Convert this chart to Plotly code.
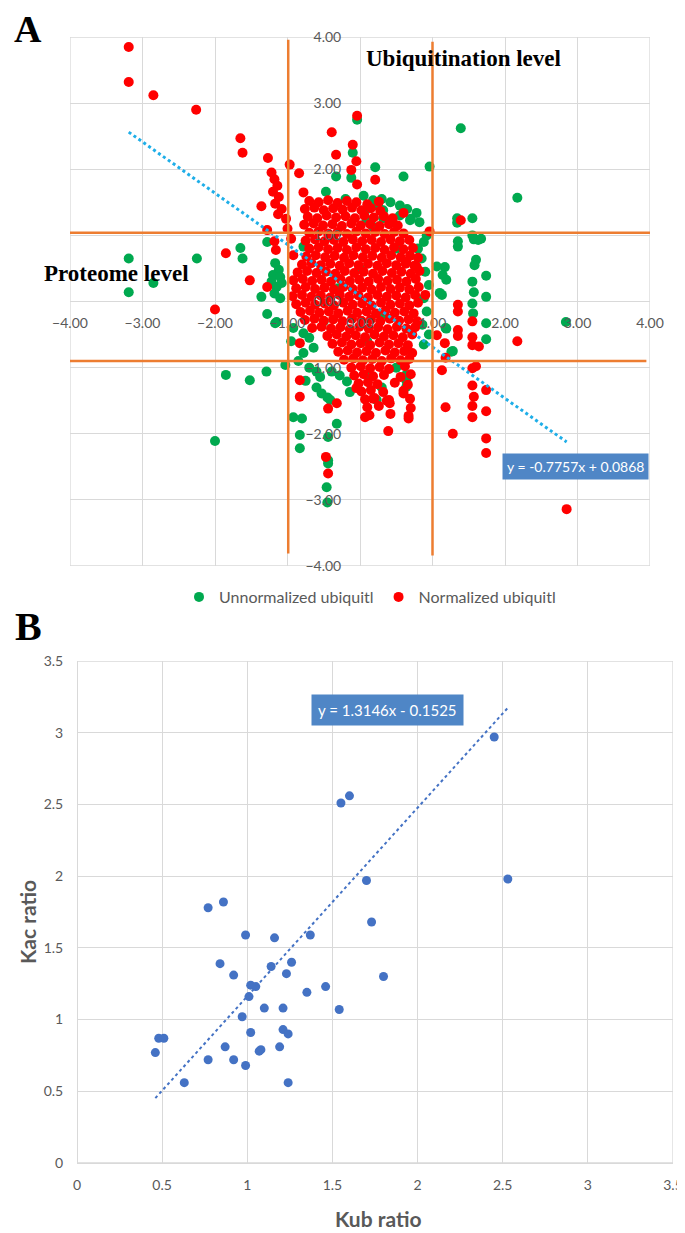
import plotly.graph_objects as go

# ---------------- Panel A data ----------------
green_outliers = [
    (-3.19, 0.65), (-3.19, 0.14), (-2.85, 0.28), (-2.25, 0.65), (-1.65, 0.81), (-1.62, 0.65),
    (-1.36, 0.07), (-1.28, 0.90), (-1.28, -0.19), (-1.17, -0.33), (-1.85, -1.11), (-1.52, -1.19),
    (-1.29, -1.06), (-2.00, -2.11), (1.39, 2.62), (2.17, 1.57), (1.34, 1.26), (1.34, 1.19),
    (1.55, 1.26), (1.55, 1.00), (1.57, 0.94), (1.63, 0.93), (1.67, 0.95), (1.35, 0.91), (1.35, 0.83),
    (1.60, 0.63), (1.58, 0.55), (1.17, 0.52), (1.19, 0.33), (1.74, 0.39), (1.55, 0.30), (1.57, 0.14),
    (1.74, 0.07), (1.13, 0.10), (1.55, -0.03), (1.56, -0.18), (1.74, -0.33), (2.84, -0.31),
    (1.18, -0.40), (1.74, -0.57), (1.28, -0.75), (0.96, 2.04), (0.60, 1.89), (0.21, 2.03),
    (-0.10, 2.25), (-0.33, 1.89), (-0.47, 1.66), (-0.12, 1.87), (-0.04, 2.75), (-0.45, -3.04),
    (-0.46, -2.81),
]
green_cluster = [
    (0.18, 1.53), (0.30, 1.55), (0.42, 1.50), (0.55, 1.45), (0.65, 1.40), (0.78, 1.34), (0.70, 1.25),
    (0.82, 1.20), (0.92, 1.00), (0.88, 0.90), (0.09, 1.23), (0.18, 1.13), (0.32, 1.38), (0.32, 1.26),
    (0.69, 1.23), (0.10, 1.40), (0.55, 1.30), (0.45, 1.20), (0.25, 1.45), (0.05, 1.60), (-0.20, 1.55),
    (1.06, 0.53), (1.14, 0.40), (1.10, 0.13), (0.85, 0.65), (0.90, 0.45), (0.95, 0.25), (0.88, 0.05),
    (0.92, -0.15), (0.86, -0.35), (0.95, -0.50), (0.88, -0.65), (1.19, -0.41), (1.26, -0.76),
    (0.80, 0.80), (-1.17, 0.58), (-1.12, 0.48), (-1.20, 0.40), (-1.10, 0.37), (-1.22, 0.30),
    (-1.15, 0.22), (-1.08, 0.28), (-1.18, 0.12), (-1.10, 0.05), (-1.15, -0.31), (-1.03, -0.96),
    (-0.78, 0.83), (-0.78, -0.48), (-0.70, -0.55), (-0.64, -0.70), (-0.78, -0.78), (-0.92, -0.40),
    (-0.95, -0.60), (-0.85, -0.90), (-0.60, -1.06), (-0.55, -1.14), (-0.39, -1.06), (-0.28, -1.12),
    (-0.18, -1.21), (-0.53, -1.39), (-0.45, -1.45), (-0.41, -1.49), (-0.70, -1.00), (-0.92, -1.75),
    (-0.80, -1.77), (-0.83, -2.02), (-0.83, -2.22), (-0.32, -1.85), (-0.44, -2.05), (-0.44, -2.40),
    (-0.44, -2.45), (-0.60, -1.30), (-0.75, -1.20), (0.23, -1.49), (0.64, -1.11), (0.64, -1.29),
    (0.64, -1.20), (0.12, -1.11), (-0.14, -1.37), (0.30, -1.30), (0.50, -1.00), (0.00, 0.50),
    (-0.30, 0.20), (0.30, -0.20), (0.50, 0.80), (-0.50, -0.30), (0.10, -0.60),
]
red_outliers = [
    (-3.19, 3.85), (-3.19, 3.32), (-2.85, 3.12), (-2.26, 2.90), (-1.65, 2.47), (-1.62, 2.25),
    (-1.27, 2.17), (-0.39, 2.56), (-0.10, 2.37), (-0.33, 2.22), (-0.05, 2.12), (-0.12, 1.99),
    (-0.04, 1.77), (0.21, 1.84), (-0.04, 2.81), (-0.97, 2.07), (-0.84, 1.94), (-0.78, 1.65),
    (-1.22, 1.95), (-1.18, 1.85), (-1.14, 1.75), (-1.20, 1.66), (-1.12, 1.58), (-1.17, 1.48),
    (-1.08, 1.40), (-1.13, 1.32), (-1.02, 1.25), (-1.36, 1.44), (-1.28, 1.08), (-1.18, 0.91),
    (-1.16, 0.78), (-1.85, 0.73), (-1.52, 0.32), (-1.28, 0.22), (-2.00, -0.12), (-1.00, 1.10),
    (-0.95, 0.95), (-0.92, 0.70), (0.60, 1.34), (0.96, 1.06), (0.64, 0.60), (0.78, 0.53),
    (0.90, 0.10), (1.39, 1.23), (1.35, -0.05), (1.35, -0.15), (1.55, -0.30), (1.35, -0.43),
    (1.35, -0.52), (1.17, -0.63), (1.55, -0.54), (1.55, -0.66), (1.64, -0.68), (2.17, -0.60),
    (1.18, -0.85), (1.13, -1.04), (1.55, -1.01), (1.60, -0.98), (1.55, -1.27), (1.74, -1.34),
    (1.57, -1.44), (1.55, -1.58), (1.18, -1.60), (1.74, -1.66), (1.55, -1.75), (1.28, -2.00),
    (1.74, -2.07), (1.74, -2.29), (2.85, -3.14), (1.06, -0.51), (-0.83, -1.19), (-0.83, -1.44),
    (-0.83, -0.63), (-0.44, -1.62), (-0.32, -1.54), (-0.47, -2.35), (-0.44, -2.60), (0.39, -1.96),
    (0.67, -1.77), (0.18, -1.47), (0.07, -1.75), (0.37, -1.50), (0.41, -1.54), (0.60, -1.39),
    (-0.05, -1.31),
]
red_cluster = [
    (-0.70, 1.52), (-0.57, 1.50), (-0.44, 1.53), (-0.31, 1.49), (-0.18, 1.52), (-0.05, 1.50), (0.10, 1.47), (0.26, 1.51),
    (-0.76, 1.40), (-0.63, 1.42), (-0.50, 1.38), (-0.37, 1.41), (-0.24, 1.39), (-0.11, 1.42), (0.02, 1.38), (0.15, 1.41), (0.28, 1.37),
    (-0.72, 1.28), (-0.59, 1.26), (-0.46, 1.30), (-0.33, 1.27), (-0.20, 1.29), (-0.07, 1.26), (0.06, 1.30), (0.19, 1.27), (0.33, 1.29), (0.45, 1.26),
    (-0.77, 1.16), (-0.64, 1.18), (-0.51, 1.15), (-0.38, 1.17), (-0.25, 1.14), (-0.12, 1.18), (0.01, 1.15), (0.14, 1.17), (0.27, 1.14), (0.40, 1.17), (0.52, 1.15),
    (-0.70, 1.04), (-0.57, 1.06), (-0.44, 1.03), (-0.31, 1.05), (-0.18, 1.02), (-0.05, 1.06), (0.08, 1.03), (0.21, 1.05), (0.34, 1.02), (0.47, 1.05), (0.60, 1.03),
    (-0.75, 0.92), (-0.62, 0.94), (-0.49, 0.91), (-0.36, 0.93), (-0.23, 0.90), (-0.10, 0.94), (0.03, 0.91), (0.16, 0.93), (0.29, 0.90), (0.42, 0.94), (0.55, 0.91), (0.68, 0.93),
    (-0.70, 0.80), (-0.57, 0.82), (-0.44, 0.79), (-0.31, 0.81), (-0.18, 0.78), (-0.05, 0.82), (0.08, 0.79), (0.21, 0.81), (0.34, 0.78), (0.47, 0.82), (0.60, 0.79), (0.73, 0.81),
    (-0.74, 0.68), (-0.61, 0.70), (-0.48, 0.67), (-0.35, 0.69), (-0.22, 0.66), (-0.09, 0.70), (0.04, 0.67), (0.17, 0.69), (0.30, 0.66), (0.43, 0.70), (0.56, 0.67), (0.69, 0.69), (0.80, 0.66),
    (-0.80, 0.56), (-0.67, 0.58), (-0.54, 0.55), (-0.41, 0.57), (-0.28, 0.54), (-0.15, 0.58), (-0.02, 0.55), (0.11, 0.57), (0.24, 0.54), (0.37, 0.58), (0.50, 0.55), (0.63, 0.57), (0.75, 0.54),
    (-0.86, 0.44), (-0.73, 0.46), (-0.60, 0.43), (-0.47, 0.45), (-0.34, 0.42), (-0.21, 0.46), (-0.08, 0.43), (0.05, 0.45), (0.18, 0.42), (0.31, 0.46), (0.44, 0.43), (0.57, 0.45), (0.70, 0.42), (0.82, 0.46),
    (-0.92, 0.32), (-0.79, 0.34), (-0.66, 0.31), (-0.53, 0.33), (-0.40, 0.30), (-0.27, 0.34), (-0.14, 0.31), (-0.01, 0.33), (0.12, 0.30), (0.25, 0.34), (0.38, 0.31), (0.51, 0.33), (0.64, 0.30), (0.77, 0.34),
    (-0.88, 0.20), (-0.75, 0.22), (-0.62, 0.19), (-0.49, 0.21), (-0.36, 0.18), (-0.23, 0.22), (-0.10, 0.19), (0.03, 0.21), (0.16, 0.18), (0.29, 0.22), (0.42, 0.19), (0.55, 0.21), (0.68, 0.18), (0.81, 0.22),
    (-0.93, 0.08), (-0.80, 0.10), (-0.67, 0.07), (-0.54, 0.09), (-0.41, 0.06), (-0.28, 0.10), (-0.15, 0.07), (-0.02, 0.09), (0.11, 0.06), (0.24, 0.10), (0.37, 0.07), (0.50, 0.09), (0.63, 0.06), (0.76, 0.10),
    (-0.88, -0.04), (-0.75, -0.02), (-0.62, -0.05), (-0.49, -0.03), (-0.36, -0.06), (-0.23, -0.02), (-0.10, -0.05), (0.03, -0.03), (0.16, -0.06), (0.29, -0.02), (0.42, -0.05), (0.55, -0.03), (0.68, -0.06), (0.80, -0.02),
    (-0.82, -0.16), (-0.69, -0.14), (-0.56, -0.17), (-0.43, -0.15), (-0.30, -0.18), (-0.17, -0.14), (-0.04, -0.17), (0.09, -0.15), (0.22, -0.18), (0.35, -0.14), (0.48, -0.17), (0.61, -0.15), (0.74, -0.18),
    (-0.76, -0.28), (-0.63, -0.26), (-0.50, -0.29), (-0.37, -0.27), (-0.24, -0.30), (-0.11, -0.26), (0.02, -0.29), (0.15, -0.27), (0.28, -0.30), (0.41, -0.26), (0.54, -0.29), (0.67, -0.27), (0.79, -0.30),
    (-0.66, -0.40), (-0.53, -0.38), (-0.40, -0.41), (-0.27, -0.39), (-0.14, -0.42), (-0.01, -0.38), (0.12, -0.41), (0.25, -0.39), (0.38, -0.42), (0.51, -0.38), (0.64, -0.41), (0.76, -0.39),
    (-0.45, -0.52), (-0.32, -0.50), (-0.19, -0.53), (-0.06, -0.51), (0.07, -0.54), (0.20, -0.50), (0.33, -0.53), (0.46, -0.51), (0.59, -0.54), (0.72, -0.50),
    (-0.38, -0.64), (-0.25, -0.62), (-0.12, -0.65), (0.01, -0.63), (0.14, -0.66), (0.27, -0.62), (0.40, -0.65), (0.53, -0.63), (0.66, -0.66),
    (-0.30, -0.76), (-0.17, -0.74), (-0.04, -0.77), (0.09, -0.75), (0.22, -0.78), (0.35, -0.74), (0.48, -0.77), (0.61, -0.75), (0.72, -0.78),
    (-0.22, -0.88), (-0.09, -0.86), (0.04, -0.89), (0.17, -0.87), (0.30, -0.90), (0.43, -0.86), (0.56, -0.89), (0.68, -0.87),
    (-0.12, -1.00), (0.01, -0.98), (0.14, -1.01), (0.27, -0.99), (0.40, -1.02), (0.62, -0.98),
    (-0.08, -1.12), (0.05, -1.10), (0.18, -1.13), (0.33, -1.11), (0.56, -1.14), (0.70, -1.10),
    (-0.02, -1.24), (0.11, -1.22), (0.24, -1.25), (0.48, -1.23), (0.66, -1.26),
    (0.02, -1.36), (0.15, -1.34), (0.32, -1.37), (0.60, -1.35),
    (0.07, -1.48), (0.20, -1.46), (0.40, -1.49), (0.69, -1.47),
    (0.10, -1.60), (0.26, -1.58), (0.70, -1.61),
    (0.13, -1.72), (0.42, -1.70), (0.67, -1.73),
]
trend_a_slope, trend_a_intercept = -0.7757, 0.0868
trend_a_label = "y = -0.7757x + 0.0868"
quadrant_x = [-0.99, 1.00]
quadrant_y = [1.04, -0.90]

# ---------------- Panel B data ----------------
kub_ratio = [2.45, 1.55, 1.60, 1.70, 2.53, 0.77, 0.86, 1.73, 0.99, 1.16, 1.37, 0.84, 0.92, 1.14,
             1.26, 1.23, 1.80, 1.02, 1.05, 1.46, 1.35, 1.01, 1.10, 1.21, 1.54, 0.97, 1.02, 1.21,
             1.24, 0.48, 0.51, 0.46, 0.87, 1.07, 1.08, 1.19, 0.77, 0.92, 0.99, 0.63, 1.24]
kac_ratio = [2.97, 2.51, 2.56, 1.97, 1.98, 1.78, 1.82, 1.68, 1.59, 1.57, 1.59, 1.39, 1.31, 1.37,
             1.40, 1.32, 1.30, 1.24, 1.23, 1.23, 1.19, 1.16, 1.08, 1.08, 1.07, 1.02, 0.91, 0.93,
             0.90, 0.87, 0.87, 0.77, 0.81, 0.78, 0.79, 0.81, 0.72, 0.72, 0.68, 0.56, 0.56]
trend_b_slope, trend_b_intercept = 1.3146, -0.1525
trend_b_label = "y = 1.3146x - 0.1525"

# page body has an 8px margin, so the figure is drawn 8px right/down
OFF = 8
W, H = 685 - OFF, 1233 - OFF
def px(x):
    return (x - OFF) / W
def py(y):
    return 1 - (y - OFF) / H

GRID = "#d9d9d9"
TICK = "#595959"
TICKFONT = "Lato"

fig = go.Figure()

gx = [p[0] for p in green_outliers + green_cluster]
gy = [p[1] for p in green_outliers + green_cluster]
rx = [p[0] for p in red_outliers + red_cluster]
ry = [p[1] for p in red_outliers + red_cluster]

fig.add_trace(go.Scatter(x=gx, y=gy, mode="markers", name="Unnormalized ubiquitl",
                         marker=dict(color="#00a94f", size=10), xaxis="x", yaxis="y"))
fig.add_trace(go.Scatter(x=rx, y=ry, mode="markers", name="Normalized ubiquitl",
                         marker=dict(color="#ff0000", size=10), xaxis="x", yaxis="y"))
allx = gx + rx
ta_x = [min(allx), max(allx)]
ta_y = [trend_a_slope * v + trend_a_intercept for v in ta_x]
fig.add_trace(go.Scatter(x=ta_x, y=ta_y, mode="lines", showlegend=False,
                         line=dict(color="#1eaee8", width=3, dash="dot"), xaxis="x", yaxis="y"))

fig.add_trace(go.Scatter(x=kub_ratio, y=kac_ratio, mode="markers", showlegend=False,
                         marker=dict(color="#4472c4", size=9), xaxis="x2", yaxis="y2"))
tb_x = [min(kub_ratio), max(kub_ratio)]
tb_y = [trend_b_slope * v + trend_b_intercept for v in tb_x]
fig.add_trace(go.Scatter(x=tb_x, y=tb_y, mode="lines", showlegend=False,
                         line=dict(color="#4472c4", width=2, dash="dot"), xaxis="x2", yaxis="y2"))

xa_dom = [px(70), px(650)]
ya_dom = [py(566), py(37)]
xb_dom = [px(77), px(673)]
yb_dom = [py(1163), py(661)]

common = dict(showgrid=True, gridcolor=GRID, gridwidth=1.3, zeroline=True, zerolinecolor=GRID,
              zerolinewidth=1.3, ticks="outside", tickcolor="rgba(0,0,0,0)", showline=False,
              automargin=False, ticklabeloverflow="allow")

fig.update_layout(
    width=W, height=H, margin=dict(l=0, r=0, t=0, b=0, autoexpand=False),
    paper_bgcolor="white", plot_bgcolor="white",
    xaxis=dict(domain=xa_dom, range=[-4, 4], dtick=1, tickformat=".2f",
               anchor="free", position=(ya_dom[0] + ya_dom[1]) / 2, ticklen=9,
               tickfont=dict(family=TICKFONT, size=14, color=TICK), **common),
    yaxis=dict(domain=ya_dom, range=[-4, 4], dtick=1, tickformat=".2f",
               anchor="free", position=(xa_dom[0] + xa_dom[1]) / 2, ticklen=16,
               tickfont=dict(family=TICKFONT, size=14, color=TICK), **common),
    xaxis2=dict(domain=xb_dom, range=[0, 3.5], dtick=0.5, anchor="y2", ticklen=9,
                tickfont=dict(family=TICKFONT, size=14, color=TICK), **common),
    yaxis2=dict(domain=yb_dom, range=[0, 3.5], dtick=0.5, anchor="x2", ticklen=10,
                tickfont=dict(family=TICKFONT, size=14, color=TICK), **common),
    legend=dict(orientation="h", x=px(370), xanchor="center", y=py(597), yanchor="middle",
                font=dict(family=TICKFONT, size=16, color=TICK), bgcolor="rgba(0,0,0,0)",
                itemwidth=30, tracegroupgap=0),
    showlegend=True,
)

shapes = [
    dict(type="rect", xref="x", yref="y", x0=-4, x1=4, y0=-4, y1=4,
         line=dict(color=GRID, width=1.3), layer="below"),
    dict(type="rect", xref="x2", yref="y2", x0=0, x1=3.5, y0=0, y1=3.5,
         line=dict(color=GRID, width=1.3), layer="below"),
]
ORANGE = "#ed7d31"
shapes.append(dict(type="line", xref="x", yref="y", x0=quadrant_x[0], x1=quadrant_x[0],
                   y0=3.96, y1=-3.81, line=dict(color=ORANGE, width=2.5)))
shapes.append(dict(type="line", xref="x", yref="y", x0=quadrant_x[1], x1=quadrant_x[1],
                   y0=3.93, y1=-3.84, line=dict(color=ORANGE, width=2.5)))
shapes.append(dict(type="line", xref="x", yref="y", x0=-4.0, x1=4.0,
                   y0=quadrant_y[0], y1=quadrant_y[0], line=dict(color=ORANGE, width=2.5)))
shapes.append(dict(type="line", xref="x", yref="y", x0=-4.0, x1=3.95,
                   y0=quadrant_y[1], y1=quadrant_y[1], line=dict(color=ORANGE, width=2.5)))
fig.update_layout(shapes=shapes)

SERIF = "Liberation Serif"
ann = [
    dict(text="<b>A</b>", x=px(28), y=py(29), font=dict(family=SERIF, size=38, color="black")),
    dict(text="<b>B</b>", x=px(28), y=py(626), font=dict(family=SERIF, size=40, color="black")),
    dict(text="<b>Ubiquitination level</b>", x=px(463), y=py(58),
         font=dict(family=SERIF, size=23, color="black")),
    dict(text="<b>Proteome level</b>", x=px(116), y=py(273),
         font=dict(family=SERIF, size=23, color="black")),
    dict(text=trend_a_label, x=px(575), y=py(466.5), bgcolor="#4f86c6", borderpad=4,
         font=dict(family=TICKFONT, size=14, color="white")),
    dict(text=trend_b_label, x=px(387.5), y=py(710), bgcolor="#4f86c6", borderpad=6,
         font=dict(family=TICKFONT, size=15, color="white")),
    dict(text="<b>Kac ratio</b>", x=px(28), y=py(922), textangle=-90,
         font=dict(family=TICKFONT, size=21, color=TICK)),
    dict(text="<b>Kub ratio</b>", x=px(378), y=py(1218),
         font=dict(family=TICKFONT, size=21, color=TICK)),
]
for a in ann:
    a.update(xref="paper", yref="paper", showarrow=False, xanchor="center", yanchor="middle")
fig.update_layout(annotations=ann)

fig.write_html("out.html")
